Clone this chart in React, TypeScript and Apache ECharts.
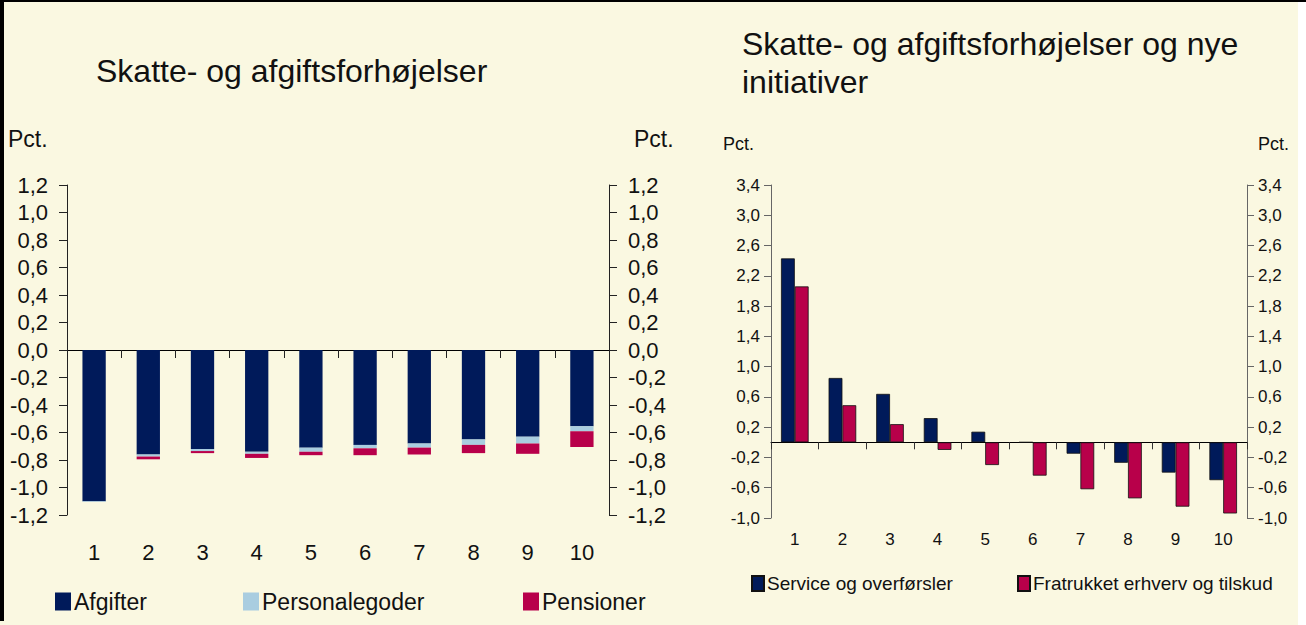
import React, { useEffect, useRef } from 'react';
import * as echarts from 'echarts';

const categories = ['1', '2', '3', '4', '5', '6', '7', '8', '9', '10'];

// Left chart: Skatte- og afgiftsforhøjelser (stacked, pct.)
const afgifter = [-1.1, -0.76, -0.72, -0.74, -0.71, -0.69, -0.68, -0.65, -0.63, -0.555];
const personalegoder = [-0.005, -0.015, -0.015, -0.015, -0.03, -0.025, -0.03, -0.04, -0.05, -0.035];
const pensioner = [0, -0.02, -0.015, -0.03, -0.025, -0.05, -0.05, -0.06, -0.075, -0.115];

// Right chart: Skatte- og afgiftsforhøjelser og nye initiativer
const service = [2.43, 0.85, 0.64, 0.32, 0.14, 0, -0.15, -0.27, -0.4, -0.5];
const fratrukket = [2.06, 0.49, 0.24, -0.1, -0.3, -0.44, -0.62, -0.74, -0.85, -0.94];

const rightTickValues = [-1.0, -0.6, -0.2, 0.2, 0.6, 1.0, 1.4, 1.8, 2.2, 2.6, 3.0, 3.4];

const leftTitle = 'Skatte- og afgiftsforhøjelser';
const rightTitle = 'Skatte- og afgiftsforhøjelser og nye\ninitiativer';

const NAVY = '#001a5a';
const LIGHTBLUE = '#a9cde0';
const CRIMSON = '#b8004a';
const BG = '#faf8e1';
const FONT = 'Liberation Sans, Arial, sans-serif';
const TXT = '#111';

export default function App() {
  const ref = useRef<HTMLDivElement>(null);
  useEffect(() => {
    document.body.style.margin = '0';
    const chart = echarts.init(ref.current!, null, { renderer: 'svg' });
    const fmt = (v: number) => (Math.abs(v) < 1e-9 ? 0 : v).toFixed(1).replace('.', ',');

    const leftY = (pos: 'left' | 'right') => ({
      type: 'value',
      gridIndex: 0,
      position: pos,
      min: -1.2,
      max: 1.2,
      interval: 0.2,
      axisLine: { show: true, onZero: false, lineStyle: { color: '#222', width: 1 } },
      axisTick: { show: true, length: 8, lineStyle: { color: '#222' } },
      axisLabel: { margin: 19, fontSize: 22, color: TXT, fontFamily: FONT, formatter: fmt },
      splitLine: { show: false },
    });

    const rightY = (pos: 'left' | 'right') => ({
      type: 'value',
      gridIndex: 1,
      position: pos,
      min: -1.0,
      max: 3.4,
      axisLine: { show: true, onZero: false, lineStyle: { color: '#666', width: 1 } },
      axisTick: { show: true, length: 7, customValues: rightTickValues, lineStyle: { color: '#666' } },
      axisLabel: { margin: 11, fontSize: 17, color: TXT, fontFamily: FONT, formatter: fmt, customValues: rightTickValues },
      splitLine: { show: false },
    });

    const legendText = (size: number) => ({ fontSize: size, color: TXT, fontFamily: FONT, padding: [0, 0, 0, -2] });

    const option: any = {
      animation: false,
      backgroundColor: BG,
      textStyle: { fontFamily: FONT },
      title: [
        { text: leftTitle, left: 96, top: 55, padding: 0, textStyle: { fontSize: 32, fontWeight: 'normal', color: TXT, fontFamily: FONT } },
        { text: rightTitle, left: 742, top: 25, padding: 0, textStyle: { fontSize: 32, fontWeight: 'normal', color: TXT, fontFamily: FONT, lineHeight: 38 } },
      ],
      grid: [
        { left: 67, top: 185, width: 542, height: 330 },
        { left: 771, top: 185, width: 476, height: 333 },
      ],
      xAxis: [
        {
          type: 'category', gridIndex: 0, data: categories,
          axisLine: { show: true, onZero: true, onZeroAxisIndex: 0, lineStyle: { color: '#000', width: 1 } },
          axisTick: { show: true, length: 8, lineStyle: { color: '#222' } },
          axisLabel: { show: false },
        },
        {
          type: 'category', gridIndex: 0, data: categories, position: 'bottom',
          axisLine: { show: false, onZero: false }, axisTick: { show: false },
          axisLabel: { margin: 26, fontSize: 22, color: TXT, fontFamily: FONT },
        },
        {
          type: 'category', gridIndex: 1, data: categories,
          axisLine: { show: true, onZero: true, onZeroAxisIndex: 2, lineStyle: { color: '#000', width: 1 } },
          axisTick: { show: true, length: 7, lineStyle: { color: '#333' } },
          axisLabel: { show: false },
        },
        {
          type: 'category', gridIndex: 1, data: categories, position: 'bottom',
          axisLine: { show: false, onZero: false }, axisTick: { show: false },
          axisLabel: { margin: 13, fontSize: 17, color: TXT, fontFamily: FONT },
        },
      ],
      yAxis: [leftY('left'), leftY('right'), rightY('left'), rightY('right')],
      legend: [
        { data: ['Afgifter'], left: 50, top: 585, icon: 'rect', itemWidth: 16, itemHeight: 18, textStyle: legendText(23) },
        { data: ['Personalegoder'], left: 238, top: 585, icon: 'rect', itemWidth: 16, itemHeight: 18, textStyle: legendText(23) },
        { data: ['Pensioner'], left: 518, top: 585, icon: 'rect', itemWidth: 16, itemHeight: 18, textStyle: legendText(23) },
        { data: ['Service og overførsler'], left: 746, top: 569, icon: 'rect', itemWidth: 12, itemHeight: 15, textStyle: legendText(19) },
        { data: ['Fratrukket erhverv og tilskud'], left: 1012, top: 569, icon: 'rect', itemWidth: 12, itemHeight: 15, textStyle: legendText(19) },
      ],
      series: [
        { name: 'Afgifter', type: 'bar', xAxisIndex: 0, yAxisIndex: 0, stack: 'l', data: afgifter, barWidth: '43%', itemStyle: { color: NAVY } },
        { name: 'Personalegoder', type: 'bar', xAxisIndex: 0, yAxisIndex: 0, stack: 'l', data: personalegoder, barWidth: '43%', itemStyle: { color: LIGHTBLUE } },
        { name: 'Pensioner', type: 'bar', xAxisIndex: 0, yAxisIndex: 0, stack: 'l', data: pensioner, barWidth: '43%', itemStyle: { color: CRIMSON } },
        { name: 'Service og overførsler', type: 'bar', xAxisIndex: 2, yAxisIndex: 2, data: service, barGap: '0%', barCategoryGap: '42%', itemStyle: { color: NAVY, borderColor: '#111', borderWidth: 0.8 } },
        { name: 'Fratrukket erhverv og tilskud', type: 'bar', xAxisIndex: 2, yAxisIndex: 2, data: fratrukket, barGap: '0%', barCategoryGap: '42%', itemStyle: { color: CRIMSON, borderColor: '#111', borderWidth: 0.8 } },
      ],
      graphic: [
        { type: 'rect', left: 1298, top: 0, shape: { width: 8, height: 625 }, style: { fill: '#ffffff' }, silent: true },
        { type: 'rect', left: 0, top: 0, shape: { width: 1306, height: 2 }, style: { fill: '#000' }, silent: true },
        { type: 'rect', left: 0, top: 0, shape: { width: 4, height: 621 }, style: { fill: '#000' }, silent: true },
        { type: 'text', left: 8, top: 127, style: { text: 'Pct.', fontSize: 23, fill: TXT, fontFamily: FONT } },
        { type: 'text', left: 634, top: 127, style: { text: 'Pct.', fontSize: 23, fill: TXT, fontFamily: FONT } },
        { type: 'text', left: 723, top: 135, style: { text: 'Pct.', fontSize: 18, fill: TXT, fontFamily: FONT } },
        { type: 'text', left: 1258, top: 135, style: { text: 'Pct.', fontSize: 18, fill: TXT, fontFamily: FONT } },
      ],
    };

    chart.setOption(option);
    return () => chart.dispose();
  }, []);
  return <div ref={ref} style={{ width: 1306, height: 625 }} />;
}
